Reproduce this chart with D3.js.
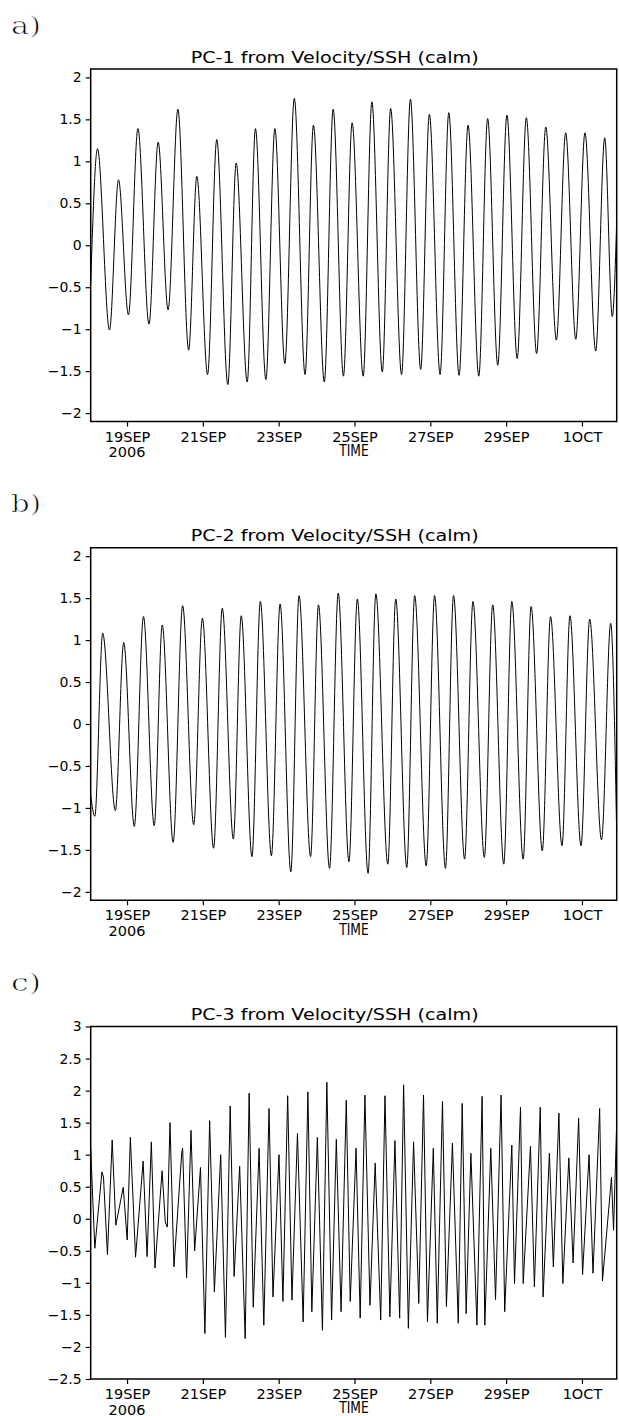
<!DOCTYPE html>
<html>
<head>
<meta charset="utf-8">
<script src="https://cdn.jsdelivr.net/npm/d3@7"></script>
<style>
body { margin: 0; background: #fff; }
text { font-family: "DejaVu Sans", sans-serif; fill: #000; }
</style>
</head>
<body>
<script>
// panel texts
const PANEL_LABELS = ['a)', 'b)', 'c)'];
const TITLES = [
    'PC-1 from Velocity/SSH (calm)',
    'PC-2 from Velocity/SSH (calm)',
    'PC-3 from Velocity/SSH (calm)'
];

// time axis (hours counted from 18 SEP 2006 00:00 UTC)
const X_START = '2006-09-18T00:00:00Z';
const X_DOMAIN_HOURS = [1, 334];
const X_TICK_HOURS = [24, 72, 120, 168, 216, 264, 312];
const X_TICK_LABELS = ['19SEP', '21SEP', '23SEP', '25SEP', '27SEP', '29SEP', '1OCT'];
const YEAR_LABEL = '2006';
const X_TITLE = 'TIME';

// value axes
const Y_DOMAIN_AB = [-2.1, 2.1];
const Y_TICKS_AB = [-2, -1.5, -1, -0.5, 0, 0.5, 1, 1.5, 2];
const Y_DOMAIN_C = [-2.5, 3];
const Y_TICKS_C = [-2.5, -2, -1.5, -1, -0.5, 0, 0.5, 1, 1.5, 2, 2.5, 3];

// PC-1: turning points
const PC1_HOURS = [1, 5.3, 12.9, 18.6, 24.9, 30.9, 37.9, 43.7, 50.0, 56.2, 63.0, 68.2, 75.0, 80.8, 87.8,
    93.1, 100.1, 105.3, 111.9, 117.6, 123.9, 129.9, 136.7, 142.0, 148.9, 154.5, 161.0, 166.5, 173.5,
    179.0, 185.6, 190.9, 197.8, 203.4, 209.9, 215.4, 222.2, 227.7, 234.2, 239.9, 246.7, 252.3, 258.7,
    264.5, 271.0, 276.8, 283.3, 289.1, 295.8, 301.7, 308.1, 313.9, 320.7, 326.4, 331.2, 334];
const PC1_VALUES = [-0.45, 1.15, -1.01, 0.78, -0.83, 1.39, -0.94, 1.23, -0.77, 1.62, -1.25, 0.82, -1.54, 1.26, -1.66,
    0.98, -1.63, 1.39, -1.60, 1.39, -1.41, 1.75, -1.54, 1.43, -1.63, 1.62, -1.56, 1.46, -1.56,
    1.71, -1.51, 1.63, -1.54, 1.74, -1.48, 1.56, -1.54, 1.58, -1.55, 1.43, -1.56, 1.51, -1.43,
    1.55, -1.35, 1.52, -1.29, 1.41, -1.13, 1.34, -1.12, 1.34, -1.26, 1.28, -0.85, 0.28];

// PC-2
const PC2_HOURS = [1, 3.6, 8.6, 16.6, 21.9, 28.6, 34.4, 41.2, 46.3, 53.2, 59.2, 66.2, 71.7, 78.8, 84.3,
    91.3, 96.3, 103.1, 108.4, 115.4, 120.9, 127.7, 132.9, 140.2, 145.2, 152.2, 157.7, 164.5, 169.8,
    176.6, 181.5, 189.1, 194.1, 201.1, 206.1, 213.4, 218.7, 225.6, 230.7, 237.7, 243.0, 250.2, 255.5,
    262.5, 267.6, 274.8, 279.8, 286.9, 292.1, 299.4, 304.4, 311.4, 316.9, 324.4, 330.2, 334];
const PC2_VALUES = [-0.85, -1.10, 1.08, -1.03, 0.97, -1.22, 1.28, -1.21, 1.18, -1.41, 1.41, -1.20, 1.26, -1.48, 1.38,
    -1.37, 1.29, -1.58, 1.46, -1.57, 1.43, -1.76, 1.53, -1.58, 1.42, -1.72, 1.56, -1.64, 1.49,
    -1.78, 1.55, -1.67, 1.49, -1.71, 1.53, -1.69, 1.53, -1.72, 1.53, -1.61, 1.46, -1.59, 1.42,
    -1.67, 1.46, -1.61, 1.40, -1.51, 1.28, -1.45, 1.29, -1.45, 1.25, -1.38, 1.20, -1.30];

// PC-3
const PC3_HOURS = [1, 3.6, 8.1, 9.1, 11.6, 14.6, 16.9, 21.6, 24.1, 26.1, 29.4, 34.2, 36.7, 39.4, 41.7,
    46.2, 48.2, 49.5, 51.2, 53.7, 58.7, 59.2, 61.7, 64.5, 66.8, 70.5, 73.3, 76.3, 79.3, 83.3, 86.3,
    89.3, 91.8, 95.3, 98.8, 101.3, 103.9, 107.6, 110.6, 113.9, 116.4, 120.2, 122.7, 125.7, 128.4,
    131.9, 135.5, 138.5, 141.0, 144.5, 147.7, 150.5, 153.5, 156.5, 159.5, 162.8, 165.3, 169.0, 171.6,
    174.6, 177.8, 181.1, 184.6, 187.3, 190.4, 193.6, 196.6, 199.1, 202.1, 205.4, 208.7, 211.7, 214.2,
    217.9, 220.4, 223.7, 226.2, 230.0, 233.7, 236.2, 238.7, 241.7, 245.5, 248.8, 250.5, 254.3, 257.3,
    260.8, 263.1, 267.6, 269.3, 273.1, 274.8, 279.4, 281.9, 285.6, 287.4, 291.4, 293.9, 297.4, 299.9,
    303.7, 306.4, 309.9, 312.4, 316.5, 319.0, 323.2, 325.0, 330.7, 332.0, 334];
const PC3_VALUES = [1.10, -0.46, 0.73, 0.65, -0.56, 1.23, -0.10, 0.49, -0.33, 1.27, -0.60, 0.90, -0.59, 1.20, -0.77,
    0.75, -0.05, -0.13, 1.50, -0.75, 1.05, 1.10, -0.92, 1.38, -0.50, 0.80, -1.79, 1.53, -1.14, 1.00, -1.85,
    1.76, -0.90, 0.82, -1.87, 1.96, -1.38, 1.10, -1.66, 1.72, -1.22, 1.00, -1.29, 1.92, -1.27,
    1.33, -1.61, 1.98, -1.45, 1.27, -1.74, 2.13, -1.58, 1.24, -1.45, 1.85, -1.29, 1.10, -1.55,
    1.93, -1.35, 0.87, -1.58, 1.92, -1.53, 1.22, -1.55, 2.09, -1.71, 1.20, -1.32, 1.93, -1.61,
    1.10, -1.63, 1.83, -1.37, 1.18, -1.63, 1.80, -1.48, 1.02, -1.66, 1.91, -1.66, 1.10, -1.26,
    1.93, -1.45, 1.15, -1.01, 1.74, -1.01, 1.13, -1.06, 1.74, -1.22, 1.02, -0.75, 1.65, -1.01,
    0.95, -0.69, 1.57, -0.87, 1.00, -0.85, 1.72, -0.97, 0.65, -0.18, 1.50];

function plot()
{
    const W = 619, H = 1416;
    const left = 90.7, right = 616.7, frameH = 352.5;
    const tops = [69, 547.75, 1026.5];
    const t0 = new Date(X_START);
    const toDate = h => new Date(t0.getTime() + h * 3600e3);

    const svg = d3.select('body').append('svg')
        .attr('width', W).attr('height', H);

    const scX = d3.scaleUtc()
        .domain(X_DOMAIN_HOURS.map(toDate))
        .range([left, right]);

    const panels = [
        { hours: PC1_HOURS, values: PC1_VALUES, dom: Y_DOMAIN_AB, ticks: Y_TICKS_AB, curve: d3.curveMonotoneX },
        { hours: PC2_HOURS, values: PC2_VALUES, dom: Y_DOMAIN_AB, ticks: Y_TICKS_AB, curve: d3.curveMonotoneX },
        { hours: PC3_HOURS, values: PC3_VALUES, dom: Y_DOMAIN_C, ticks: Y_TICKS_C, curve: d3.curveLinear }
    ];

    panels.forEach((p, i) => {
        const top = tops[i], bottom = top + frameH;
        const g = svg.append('g');
        const scY = d3.scaleLinear().domain(p.dom).range([bottom, top]);

        // panel letter, thinned a little with a white outline
        g.append('text')
            .attr('x', 11).attr('y', top - 35.5)
            .attr('textLength', 30).attr('lengthAdjust', 'spacingAndGlyphs')
            .style('font-family', '"DejaVu Serif", serif')
            .style('font-size', '24px')
            .attr('stroke', '#fff').attr('stroke-width', 0.7)
            .text(PANEL_LABELS[i]);

        g.append('text')
            .attr('x', 190.7).attr('y', top - 6.5)
            .attr('textLength', 288).attr('lengthAdjust', 'spacingAndGlyphs')
            .style('font-size', '16px')
            .text(TITLES[i]);

        // series
        const pts = p.hours.map((h, k) => ({ t: toDate(h), v: p.values[k] }));
        const lineMaker = d3.line()
            .x(d => scX(d.t))
            .y(d => scY(d.v))
            .curve(p.curve);
        g.append('path')
            .attr('d', lineMaker(pts))
            .attr('fill', 'none')
            .attr('stroke', '#000')
            .attr('stroke-width', 1)
            .attr('stroke-linejoin', 'round');

        // y axis
        const yAxis = g.append('g')
            .attr('transform', `translate(${left},0)`)
            .call(d3.axisLeft(scY).tickValues(p.ticks).tickFormat(d3.format('~g'))
                .tickSize(5).tickPadding(4));
        yAxis.select('.domain').remove();
        yAxis.selectAll('line').attr('stroke', '#000').attr('stroke-width', 1.2);
        yAxis.selectAll('text').style('font-size', '14px').attr('font-family', null);

        // x axis
        const xAxis = g.append('g')
            .attr('transform', `translate(0,${bottom})`)
            .call(d3.axisBottom(scX).tickValues(X_TICK_HOURS.map(toDate))
                .tickFormat((d, k) => X_TICK_LABELS[k]).tickSize(5));
        xAxis.select('.domain').remove();
        xAxis.selectAll('line').attr('stroke', '#000').attr('stroke-width', 1.2);
        xAxis.selectAll('text').attr('y', 20).attr('dy', null)
            .style('font-size', '14.5px').attr('font-family', null);

        g.append('text')
            .attr('x', scX(toDate(X_TICK_HOURS[0]))).attr('y', bottom + 35.5)
            .attr('text-anchor', 'middle')
            .style('font-size', '14.5px')
            .text(YEAR_LABEL);
        g.append('text')
            .attr('x', (left + right) / 2 - 14.5).attr('y', bottom + 34.3)
            .attr('textLength', 29.5).attr('lengthAdjust', 'spacingAndGlyphs')
            .style('font-size', '15px')
            .text(X_TITLE);

        // frame
        g.append('rect')
            .attr('x', left).attr('y', top)
            .attr('width', right - left).attr('height', frameH)
            .attr('fill', 'none')
            .attr('stroke', '#000')
            .attr('stroke-width', 1.5);
    });
}

plot();
</script>
</body>
</html>
